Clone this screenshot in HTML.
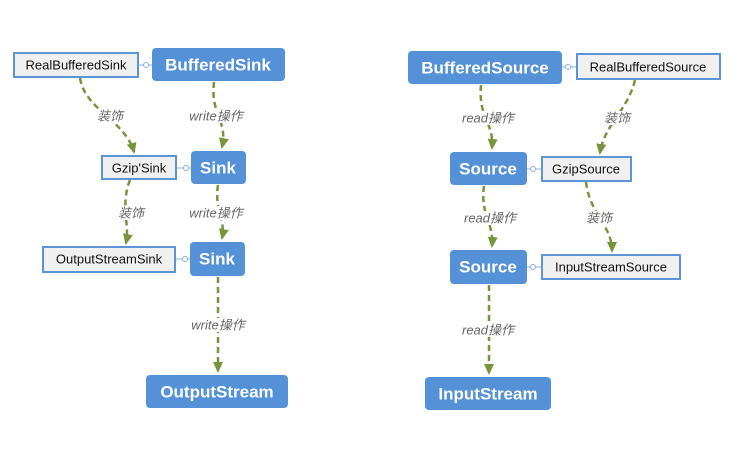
<!DOCTYPE html>
<html><head><meta charset="utf-8"><style>
body{margin:0;background:#fff;}
svg{display:block}
.b{fill:#5591d6;}
.bt{fill:#fff;font:bold 17px "Liberation Sans","Noto Sans CJK SC",sans-serif;text-anchor:middle;dominant-baseline:central}
.w{fill:#f0f0f0;stroke:#5d94d6;stroke-width:2}
.wt{fill:#111;font:13px "Liberation Sans","Noto Sans CJK SC",sans-serif;text-anchor:middle;dominant-baseline:central}
.l{fill:none;stroke:#76953a;stroke-width:2.5;stroke-dasharray:6,4}
.lb{fill:#666;font:italic 13px "Liberation Sans","Noto Sans CJK SC",sans-serif;text-anchor:middle;dominant-baseline:central}
.c{fill:#fff;stroke:#8aaedc;stroke-width:1}
.cl{stroke:#8aaedc;stroke-width:1}
</style></head><body>
<svg width="752" height="449" viewBox="0 0 752 449">
<defs><marker id="a" markerWidth="12" markerHeight="12" refX="9" refY="5" orient="auto" markerUnits="userSpaceOnUse"><path d="M0,0L11,5L0,10z" fill="#76953a"/></marker></defs>
<path class="l" d="M80,78 C85,110 125,120 134,152" marker-end="url(#a)"/>
<path class="l" d="M214,82 C210,115 228,120 222,147" marker-end="url(#a)"/>
<path class="l" d="M130,180 C120,205 130,225 126,243" marker-end="url(#a)"/>
<path class="l" d="M218,185 C214,210 226,220 222,238" marker-end="url(#a)"/>
<path class="l" d="M218,277 L218,371" marker-end="url(#a)"/>
<path class="l" d="M481,85 C478,118 494,122 492,148" marker-end="url(#a)"/>
<path class="l" d="M635,80 C628,110 604,125 600,153" marker-end="url(#a)"/>
<path class="l" d="M484,186 C480,215 494,222 492,246" marker-end="url(#a)"/>
<path class="l" d="M586,182 C590,215 612,225 612,251" marker-end="url(#a)"/>
<path class="l" d="M489,285 L489,373" marker-end="url(#a)"/>
<g>
<rect x="95" y="109" width="30" height="14" fill="#fff"/><text class="lb" x="110" y="116">装饰</text>
<rect x="188" y="109" width="56" height="14" fill="#fff"/><text class="lb" x="216" y="116">write操作</text>
<rect x="116" y="206" width="30" height="14" fill="#fff"/><text class="lb" x="131" y="213">装饰</text>
<rect x="188" y="206" width="56" height="14" fill="#fff"/><text class="lb" x="216" y="213">write操作</text>
<rect x="188" y="318" width="60" height="14" fill="#fff"/><text class="lb" x="218" y="325">write操作</text>
<rect x="458" y="111" width="60" height="14" fill="#fff"/><text class="lb" x="488" y="118">read操作</text>
<rect x="602" y="111" width="30" height="14" fill="#fff"/><text class="lb" x="617" y="118">装饰</text>
<rect x="460" y="211" width="60" height="14" fill="#fff"/><text class="lb" x="490" y="218">read操作</text>
<rect x="584" y="211" width="30" height="14" fill="#fff"/><text class="lb" x="599" y="218">装饰</text>
<rect x="458" y="323" width="60" height="14" fill="#fff"/><text class="lb" x="488" y="330">read操作</text>
</g>
<line class="cl" x1="138" y1="65" x2="152" y2="65"/><circle class="c" cx="146" cy="65" r="2.5"/>
<line class="cl" x1="176" y1="168" x2="191" y2="168"/><circle class="c" cx="186" cy="168" r="2.5"/>
<line class="cl" x1="175" y1="259" x2="190" y2="259"/><circle class="c" cx="185" cy="259" r="2.5"/>
<line class="cl" x1="562" y1="67" x2="577" y2="67"/><circle class="c" cx="568" cy="67" r="2.5"/>
<line class="cl" x1="527" y1="169" x2="542" y2="169"/><circle class="c" cx="533" cy="169" r="2.5"/>
<line class="cl" x1="527" y1="267" x2="542" y2="267"/><circle class="c" cx="533" cy="267" r="2.5"/>
<rect class="w" x="14" y="53" width="124" height="24"/><text class="wt" x="76" y="65">RealBufferedSink</text>
<rect class="w" x="102" y="156" width="74" height="23"/><text class="wt" x="139" y="168">Gzip'Sink</text>
<rect class="w" x="43" y="247" width="132" height="25"/><text class="wt" x="109" y="259">OutputStreamSink</text>
<rect class="w" x="577" y="54" width="143" height="25"/><text class="wt" x="648" y="67">RealBufferedSource</text>
<rect class="w" x="542" y="157" width="89" height="24"/><text class="wt" x="586" y="169">GzipSource</text>
<rect class="w" x="542" y="255" width="138" height="24"/><text class="wt" x="611" y="267">InputStreamSource</text>
<rect class="b" x="152" y="48" width="133" height="33" rx="4"/><text class="bt" x="218" y="65">BufferedSink</text>
<rect class="b" x="191" y="151" width="55" height="33" rx="4"/><text class="bt" x="218" y="168">Sink</text>
<rect class="b" x="190" y="242" width="55" height="34" rx="4"/><text class="bt" x="217" y="259">Sink</text>
<rect class="b" x="146" y="375" width="142" height="33" rx="4"/><text class="bt" x="217" y="392">OutputStream</text>
<rect class="b" x="408" y="51" width="154" height="33" rx="4"/><text class="bt" x="485" y="68">BufferedSource</text>
<rect class="b" x="450" y="152" width="77" height="33" rx="4"/><text class="bt" x="488" y="169">Source</text>
<rect class="b" x="450" y="250" width="77" height="34" rx="4"/><text class="bt" x="488" y="267">Source</text>
<rect class="b" x="425" y="377" width="126" height="33" rx="4"/><text class="bt" x="488" y="394">InputStream</text>
</svg>
</body></html>
